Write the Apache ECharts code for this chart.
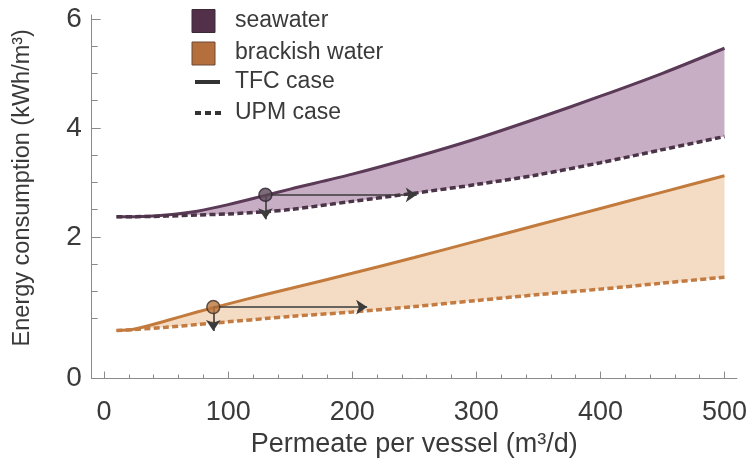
<!DOCTYPE html>
<html>
<head>
<meta charset="utf-8">
<script src="https://cdn.jsdelivr.net/npm/echarts@6/dist/echarts.min.js"></script>
<style>
  html, body { margin: 0; padding: 0; background: #ffffff; }
  #chart { width: 750px; height: 465px; }
</style>
</head>
<body>
<div id="chart"></div>
<script>
// ---- data ----
const permeate = [10, 25, 50, 75, 100, 130, 150, 200, 250, 300, 350, 400, 450, 500];
const seawaterTFC = [2.37, 2.37, 2.40, 2.47, 2.59, 2.76, 2.875, 3.15, 3.46, 3.80, 4.18, 4.58, 5.00, 5.46];
const seawaterUPM = [2.37, 2.37, 2.38, 2.40, 2.42, 2.46, 2.50, 2.65, 2.80, 2.96, 3.14, 3.36, 3.60, 3.84];
const brackishTFC = [0.28, 0.31, 0.46, 0.62, 0.77, 0.94, 1.05, 1.33, 1.62, 1.92, 2.22, 2.52, 2.82, 3.12];
const brackishUPM = [0.28, 0.30, 0.34, 0.39, 0.44, 0.50, 0.54, 0.62, 0.72, 0.83, 0.94, 1.04, 1.15, 1.26];

// operating points and their arrows: [x, y]
const seawaterPoint = [130, 2.77];
const seawaterArrowRight = [252, 2.77];
const seawaterArrowDown = [130, 2.32];
const brackishPoint = [88, 0.71];
const brackishArrowRight = [212, 0.71];
const brackishArrowDown = [88, 0.27];

const xTickValues = [0, 100, 200, 300, 400, 500];
const xMinorTickValues = [0,20,40,60,80,100,120,140,160,180,200,220,240,260,280,300,320,340,360,380,400,420,440,460,480,500];
const yAxisMin = -0.6;          // bottom of the frame, labelled "0" in the reference
const yTickValues = [yAxisMin, 2, 4, 6];
const yTickLabels = ['0', '2', '4', '6'];
const yMinorTickValues = [0.5, 1, 1.5, 2.5, 3, 3.5, 4.5, 5, 5.5];

const legendNames = ['seawater', 'brackish water', 'TFC case', 'UPM case'];

// ---- colours ----
const C = {
  seaLine: '#5a3a56', seaDash: '#4b3447', seaFill: '#c8aec5', seaBox: '#52304a',
  brLine: '#c27b3d', brDash: '#c37b42', brFill: '#f3dcc3', brBox: '#b46f3c',
  text: '#3a3a3a', axis: '#8a8a8a', arrow: '#3b3b3b'
};

const pairs = (ys) => permeate.map((x, i) => [x, ys[i]]);

// band between an upper (TFC) and lower (UPM) curve, drawn through the axes' scales
function bandSeries(top, base, fill) {
  return {
    type: 'custom', z: 1, silent: true, clip: true,
    data: [[permeate[0], base[0]]],
    renderItem: (params, api) => {
      const upper = permeate.map((x, i) => api.coord([x, top[i]]));
      const lower = permeate.map((x, i) => api.coord([x, base[i]])).reverse();
      return { type: 'polygon', shape: { points: upper.concat(lower) }, style: { fill: fill } };
    }
  };
}

const chart = echarts.init(document.getElementById('chart'), null, { renderer: 'canvas' });

const FONT = '"Liberation Sans", Arial, Helvetica, sans-serif';

const option = {
  animation: false,
  backgroundColor: '#ffffff',
  grid: { left: 91.7, right: 8.2, top: 15, bottom: 86.5, containLabel: false },
  xAxis: [{
    type: 'value', min: -10, max: 510,
    axisLine: { show: true, onZero: false, lineStyle: { color: C.axis, width: 1 } },
    axisTick: { show: true, inside: true, length: 7, customValues: xTickValues, lineStyle: { color: C.axis } },
    axisLabel: { show: true, customValues: xTickValues, margin: 21, fontFamily: FONT, fontSize: 27, color: C.text },
    splitLine: { show: false },
    name: 'Permeate per vessel (m³/d)', nameLocation: 'middle', nameGap: 45,
    nameTextStyle: { fontFamily: FONT, fontSize: 27, color: C.text }
  }, {
    type: 'value', min: -10, max: 510, position: 'bottom',
    axisLine: { show: false, onZero: false },
    axisTick: { show: true, inside: true, length: 4, customValues: xMinorTickValues, lineStyle: { color: C.axis } },
    axisLabel: { show: false }, splitLine: { show: false }
  }],
  yAxis: [{
    type: 'value', min: yAxisMin, max: 6.07,
    axisLine: { show: true, onZero: false, lineStyle: { color: C.axis, width: 1 } },
    axisTick: { show: true, inside: true, length: 9, customValues: [2, 4, 6], lineStyle: { color: C.axis } },
    axisLabel: {
      show: true, customValues: yTickValues, margin: 10, fontFamily: FONT, fontSize: 28, color: C.text,
      formatter: (v) => {
        const i = yTickValues.findIndex(t => Math.abs(t - v) < 1e-6);
        return i >= 0 ? yTickLabels[i] : '';
      }
    },
    splitLine: { show: false },
    name: 'Energy consumption (kWh/m³)', nameLocation: 'middle', nameGap: 57,
    nameTextStyle: { fontFamily: FONT, fontSize: 23.5, color: C.text, padding: [0, 0, 0, 18] }
  }, {
    type: 'value', min: yAxisMin, max: 6.07, position: 'left',
    axisLine: { show: false, onZero: false },
    axisTick: { show: true, inside: true, length: 6, customValues: yMinorTickValues, lineStyle: { color: C.axis } },
    axisLabel: { show: false }, splitLine: { show: false }
  }],
  series: [
    bandSeries(seawaterTFC, seawaterUPM, C.seaFill),
    bandSeries(brackishTFC, brackishUPM, C.brFill),
    // boundary lines
    { name: 'seawater TFC', type: 'line', data: pairs(seawaterTFC), symbol: 'none', smooth: 0.3,
      lineStyle: { color: C.seaLine, width: 3 }, z: 3 },
    { name: 'seawater UPM', type: 'line', data: pairs(seawaterUPM), symbol: 'none', smooth: 0.3,
      lineStyle: { color: C.seaDash, width: 3.5, type: [6, 3.3] }, z: 3 },
    { name: 'brackish TFC', type: 'line', data: pairs(brackishTFC), symbol: 'none', smooth: 0.3,
      lineStyle: { color: C.brLine, width: 3 }, z: 3 },
    { name: 'brackish UPM', type: 'line', data: pairs(brackishUPM), symbol: 'none', smooth: 0.3,
      lineStyle: { color: C.brDash, width: 3.5, type: [6, 3.3] }, z: 3 },
    // arrows
    { type: 'lines', coordinateSystem: 'cartesian2d', z: 4, silent: true,
      symbol: ['none', 'arrow'], symbolSize: [0, 11],
      lineStyle: { color: C.arrow, width: 1.6, opacity: 1 },
      data: [
        { coords: [seawaterPoint, seawaterArrowRight] },
        { coords: [seawaterPoint, seawaterArrowDown] },
        { coords: [brackishPoint, brackishArrowRight] },
        { coords: [brackishPoint, brackishArrowDown] }
      ] },
    // operating points
    { type: 'scatter', z: 5, symbolSize: 13, silent: true,
      data: [
        { value: seawaterPoint, itemStyle: { color: '#5b4858', borderColor: '#2e2430', borderWidth: 1.5 } },
        { value: brackishPoint, itemStyle: { color: '#b8763f', borderColor: '#3e2e26', borderWidth: 1.5 } }
      ] }
  ],
  graphic: [
    { type: 'rect', z: 10, shape: { x: 192, y: 9.5, width: 23, height: 23 }, style: { fill: C.seaBox, stroke: '#3a2a36', lineWidth: 1 } },
    { type: 'rect', z: 10, shape: { x: 192, y: 42, width: 23, height: 23 }, style: { fill: C.brBox, stroke: '#6a4a38', lineWidth: 1 } },
    { type: 'line', z: 10, shape: { x1: 195, y1: 82, x2: 220, y2: 82 }, style: { stroke: '#333333', lineWidth: 4 } },
    { type: 'line', z: 10, shape: { x1: 195, y1: 113, x2: 221, y2: 113 }, style: { stroke: '#333333', lineWidth: 4, lineDash: [6, 4] } },
    { type: 'text', z: 10, x: 235, y: 21, style: { text: legendNames[0], fill: C.text, fontFamily: FONT, fontSize: 23, verticalAlign: 'middle' } },
    { type: 'text', z: 10, x: 235, y: 53, style: { text: legendNames[1], fill: C.text, fontFamily: FONT, fontSize: 23, verticalAlign: 'middle' } },
    { type: 'text', z: 10, x: 235, y: 82, style: { text: legendNames[2], fill: C.text, fontFamily: FONT, fontSize: 23, verticalAlign: 'middle' } },
    { type: 'text', z: 10, x: 235, y: 113, style: { text: legendNames[3], fill: C.text, fontFamily: FONT, fontSize: 23, verticalAlign: 'middle' } }
  ]
};

chart.setOption(option);
</script>
</body>
</html>
